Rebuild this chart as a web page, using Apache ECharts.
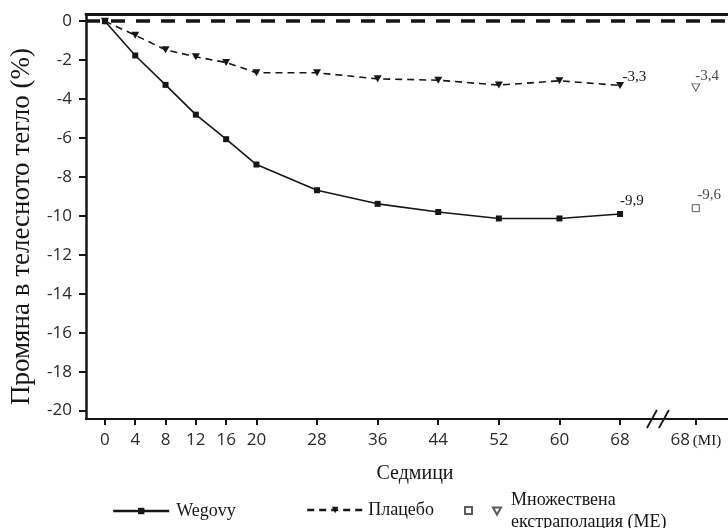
<!DOCTYPE html>
<html><head><meta charset="utf-8">
<script src="https://cdn.jsdelivr.net/npm/echarts@6/dist/echarts.min.js"></script>
<style>html,body{margin:0;padding:0;background:#fff}#c{width:728px;height:528px}</style>
</head><body><div id="c"></div>
<script>
// ---- data ----
const weeks = [0, 4, 8, 12, 16, 20, 28, 36, 44, 52, 60, 68];
const wegovy = [0, -1.76, -3.27, -4.8, -6.06, -7.36, -8.68, -9.38, -9.8, -10.13, -10.13, -9.9];
const placebo = [0, -0.72, -1.47, -1.83, -2.12, -2.65, -2.65, -2.96, -3.03, -3.28, -3.06, -3.3];
const miWeek = 78;              // position of the "68 (MI)" column
const miWegovy = -9.6;
const miPlacebo = -3.4;
const xTickValues = [0, 4, 8, 12, 16, 20, 28, 36, 44, 52, 60, 68, 78];
const yTickValues = [0, -2, -4, -6, -8, -10, -12, -14, -16, -18, -20];
const breakAt = 73;
const names = {
  wegovy: 'Wegovy',
  placebo: 'Плацебо',
  miSq: 'ME-sq',
  miTri: 'Множествена\nекстраполация (МЕ)',
  yTitle: 'Промяна в телесното тегло (%)',
  xTitle: 'Седмици'
};

const SERIF = '"Liberation Serif", "Times New Roman", serif';
const SANS = '"Open Sans", "Noto Sans", sans-serif';
const INK = '#161616';
const downTri = 'path://M0,0 L10,0 L5,9 Z';
const fmt = v => v.toFixed(1).replace('.', ',');

const xMin = -2.5, xMax = 82.25, yMin = -20.43, yMax = 0.37;

function pts(xs, ys, labelPos) {
  return xs.map((x, i) => {
    const item = { value: [x, ys[i]] };
    if (i === xs.length - 1 && labelPos) {
      item.label = { show: true, position: labelPos, align: 'left', verticalAlign: 'middle',
        formatter: fmt(ys[i]), fontFamily: SERIF, fontSize: 15, color: INK };
    }
    return item;
  });
}

const chart = echarts.init(document.getElementById('c'), null, { renderer: 'canvas' });
const option = {
  animation: false,
  backgroundColor: '#fff',
  grid: { left: 86, right: 0, top: 14, bottom: 109, containLabel: false, outerBoundsMode: 'none' },
  xAxis: [{
    type: 'value', min: xMin, max: xMax,
    name: names.xTitle, nameLocation: 'middle', nameGap: 45,
    nameTextStyle: { fontFamily: SERIF, fontSize: 20, color: INK, padding: [0, 0, 0, 16] },
    axisLine: { show: true, onZero: false, lineStyle: { color: INK, width: 2.2 } },
    axisTick: { show: true, length: 6, customValues: xTickValues, lineStyle: { color: INK, width: 2 } },
    axisLabel: {
      customValues: xTickValues, margin: 13, fontFamily: SANS, fontSize: 17, color: '#2a2a2a',
      formatter: v => v === miWeek ? '{a|68}{b|(MI)}' : String(v),
      rich: { a: { fontFamily: SANS, fontSize: 17, color: '#2a2a2a' },
              b: { fontFamily: SERIF, fontSize: 15, color: INK, padding: [2, 0, 0, 3] } }
    },
    splitLine: { show: false }
  }, {
    type: 'value', min: xMin, max: xMax, position: 'top',
    axisLine: { show: true, onZero: false, lineStyle: { color: INK, width: 2.8 } },
    axisTick: { show: false }, axisLabel: { show: false }, splitLine: { show: false }
  }],
  yAxis: {
    type: 'value', min: yMin, max: yMax,
    name: names.yTitle, nameLocation: 'middle', nameRotate: 90, nameGap: 51,
    nameTextStyle: { fontFamily: SERIF, fontSize: 27, color: INK, padding: [0, 20, 0, 0] },
    axisLine: { show: true, onZero: false, lineStyle: { color: INK, width: 2.5 } },
    axisTick: { show: true, length: 7, customValues: yTickValues, lineStyle: { color: INK, width: 2 } },
    axisLabel: { customValues: yTickValues, margin: 14, fontFamily: SANS, fontSize: 17, color: '#2a2a2a' },
    splitLine: { show: false }
  },
  legend: [
    { data: [names.wegovy], left: 107, top: 497, itemWidth: 56, itemHeight: 8,
      lineStyle: { width: 2.4 }, textStyle: { fontFamily: SERIF, fontSize: 18, color: INK, padding: [0, 0, 0, 2] } },
    { data: [names.placebo], left: 301, top: 496, itemWidth: 56, itemHeight: 8,
      lineStyle: { width: 2.4 }, textStyle: { fontFamily: SERIF, fontSize: 18, color: INK } },
    { data: [names.miSq], left: 459, top: 501, itemWidth: 7, itemHeight: 7, formatter: () => '',
      textStyle: { fontSize: 1 } },
    { data: [names.miTri], left: 487, top: 484, itemWidth: 8, itemHeight: 8,
      textStyle: { fontFamily: SERIF, fontSize: 18, lineHeight: 22, color: INK, padding: [0, 0, 0, 5] } }
  ],
  series: [
    {
      name: names.wegovy, type: 'line', data: pts(weeks, wegovy, [3, -10]),
      symbol: 'rect', symbolSize: 6, showAllSymbol: true,
      lineStyle: { color: INK, width: 1.6 }, itemStyle: { color: INK },
      markLine: {
        silent: true, symbol: ['none', 'none'], label: { show: false },
        lineStyle: { color: INK, width: 3.5, type: [14, 11] },
        data: [{ yAxis: 0 }]
      }, z: 3
    },
    {
      name: names.placebo, type: 'line', data: pts(weeks, placebo, [6.5, -4.5]),
      symbol: downTri, symbolSize: [8, 7], showAllSymbol: true,
      lineStyle: { color: INK, width: 1.6, type: [7, 5] }, itemStyle: { color: INK }, z: 2
    },
    {
      name: names.miSq, type: 'scatter', data: pts([miWeek], [miWegovy], [5.5, -9.5]),
      symbol: 'rect', symbolSize: 7,
      itemStyle: { color: '#fff', borderColor: '#333', borderWidth: 1 }
    },
    {
      name: names.miTri, type: 'scatter', data: pts([miWeek], [miPlacebo], [4, -7.5]),
      symbol: downTri, symbolSize: [8, 7],
      itemStyle: { color: '#fff', borderColor: '#333', borderWidth: 1 }
    }
  ]
};
chart.setOption(option);

// axis-break marks on the x-axis, positioned via the axis scale
const bx = chart.convertToPixel({ xAxisIndex: 0 }, breakAt);
const by = chart.convertToPixel({ yAxisIndex: 0 }, yMin);
chart.setOption({
  graphic: [-6, 6].map(d => ({
    type: 'line', z: 100,
    shape: { x1: bx + d - 5, y1: by + 9, x2: bx + d + 5, y2: by - 9 },
    style: { stroke: INK, lineWidth: 1.8 }
  }))
});
</script></body></html>
